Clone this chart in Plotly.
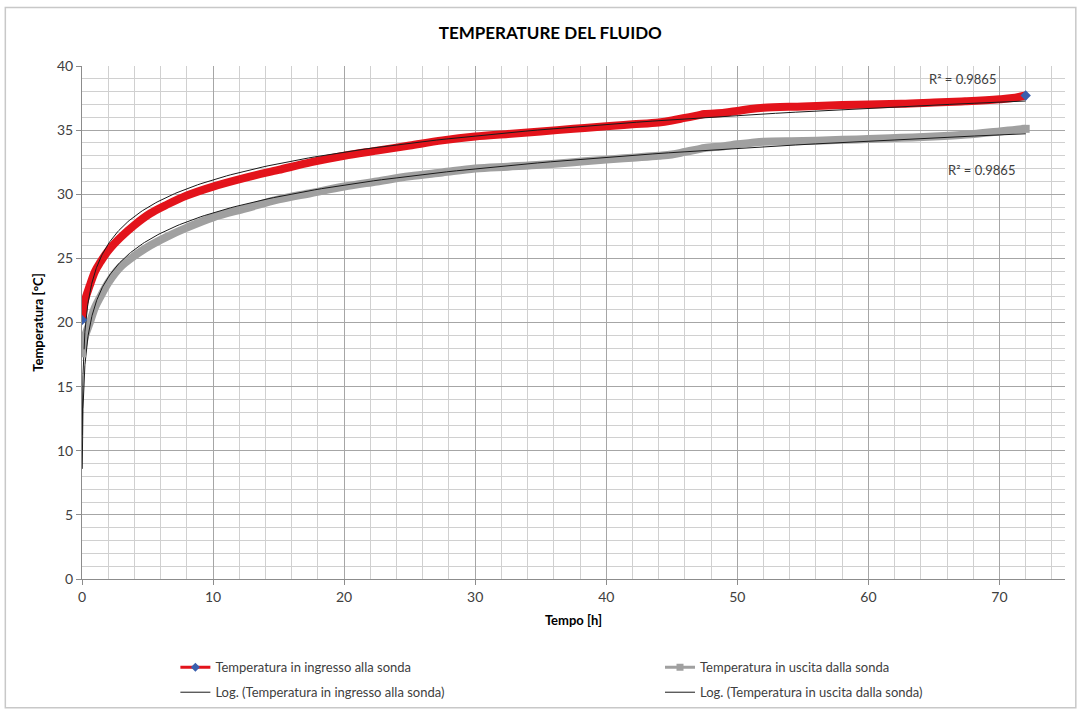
import numpy as np
import plotly.graph_objects as go

# Time [h]
tempo = [0, 0.25, 0.6, 1.0, 1.4, 2.0, 2.9, 4.0, 5.2, 6.5, 8.0, 10, 12.5, 15, 17.5, 20, 22.5, 25,
         27.5, 30, 32.5, 35, 37.5, 40, 42, 44, 45, 46, 47, 47.5, 49, 50, 51, 52, 55, 58, 60,
         62.5, 65, 67.5, 70, 71, 72]
# Inlet temperature [°C]
t_ingresso = [20.2, 21.8, 22.9, 24.0, 24.7, 25.6, 26.6, 27.6, 28.5, 29.2, 29.9, 30.6, 31.3, 31.9,
              32.5, 33.0, 33.4, 33.8, 34.2, 34.5, 34.7, 34.9, 35.1, 35.3, 35.45, 35.6, 35.75,
              35.95, 36.15, 36.25, 36.35, 36.5, 36.65, 36.75, 36.85, 36.95, 37.0, 37.05, 37.15,
              37.25, 37.4, 37.5, 37.7]
# Outlet temperature [°C]
t_uscita = [17.6, 19.0, 20.0, 21.2, 22.0, 23.1, 24.3, 25.2, 26.0, 26.7, 27.4, 28.2, 28.9, 29.6,
            30.1, 30.6, 31.0, 31.4, 31.7, 32.0, 32.15, 32.3, 32.5, 32.7, 32.85, 33.0, 33.1,
            33.3, 33.5, 33.6, 33.75, 33.9, 34.0, 34.1, 34.15, 34.25, 34.3, 34.4, 34.5, 34.65,
            34.9, 35.0, 35.1]

r2_text = ["R² = 0.9865", "R² = 0.9865"]
x_ticks = [0, 10, 20, 30, 40, 50, 60, 70]
y_ticks = [0, 5, 10, 15, 20, 25, 30, 35, 40]

FONT = "Lato, 'Liberation Sans', Arial, sans-serif"
TXT = "#404040"
RED = "#e3131b"
GREY = "#a0a0a0"
BLUE = "#3a5fae"

def log_fit(x, y):
    x = np.asarray(x, float)
    y = np.asarray(y, float)
    m = x > 0
    a, b = np.polyfit(np.log(x[m]), y[m], 1)
    xs = np.geomspace(1 / 60, x.max(), 300)
    return xs, a * np.log(xs) + b

fx1, fy1 = log_fit(tempo, t_ingresso)
fx2, fy2 = log_fit(tempo, t_uscita)

ends_x = [tempo[0], tempo[-1]]

fig = go.Figure()
# data lines
fig.add_trace(go.Scatter(x=tempo, y=t_ingresso, mode="lines", showlegend=False,
                         line=dict(color=RED, width=8, shape="spline"), hoverinfo="skip"))
fig.add_trace(go.Scatter(x=tempo, y=t_uscita, mode="lines", showlegend=False,
                         line=dict(color=GREY, width=8, shape="spline"), hoverinfo="skip"))
# trendlines
fig.add_trace(go.Scatter(x=fx1, y=fy1, mode="lines", showlegend=False,
                         line=dict(color="#1a1a1a", width=1)))
fig.add_trace(go.Scatter(x=fx2, y=fy2, mode="lines", showlegend=False,
                         line=dict(color="#1a1a1a", width=1)))
# end markers
fig.add_trace(go.Scatter(x=ends_x, y=[t_ingresso[0], t_ingresso[-1]], mode="markers", showlegend=False,
                         marker=dict(symbol="diamond", color=BLUE, size=8)))
fig.add_trace(go.Scatter(x=ends_x, y=[t_uscita[0], t_uscita[-1]], mode="markers", showlegend=False,
                         marker=dict(symbol="square", color=GREY, size=8)))

# legend entries
fig.add_trace(go.Scatter(x=[None], y=[None], mode="lines+markers",
                         name="Temperatura in ingresso alla sonda", legend="legend", legendgroup="a",
                         line=dict(color=RED, width=3),
                         marker=dict(symbol="diamond", color=BLUE, size=7)))
fig.add_trace(go.Scatter(x=[None], y=[None], mode="lines",
                         name="Log. (Temperatura in ingresso alla sonda)", legend="legend", legendgroup="b",
                         line=dict(color="#1a1a1a", width=1)))
fig.add_trace(go.Scatter(x=[None], y=[None], mode="lines+markers",
                         name="Temperatura in uscita dalla sonda", legend="legend2", legendgroup="c",
                         line=dict(color=GREY, width=3),
                         marker=dict(symbol="square", color=GREY, size=7)))
fig.add_trace(go.Scatter(x=[None], y=[None], mode="lines",
                         name="Log. (Temperatura in uscita dalla sonda)", legend="legend2", legendgroup="d",
                         line=dict(color="#1a1a1a", width=1)))

fig.add_annotation(x=67.2, y=39.0, text=r2_text[0], showarrow=False,
                   font=dict(family=FONT, size=13, color=TXT))
fig.add_annotation(x=68.6, y=31.9, text=r2_text[1], showarrow=False,
                   font=dict(family=FONT, size=13, color=TXT))

# outer chart frame
fig.add_shape(type="rect", xref="paper", yref="paper",
              x0=-0.078, x1=1.011, y0=-0.251, y1=1.114,
              line=dict(color="#c8c8c8", width=1.5), fillcolor="rgba(0,0,0,0)", layer="below")

leg_common = dict(orientation="v", yanchor="top", y=-0.143, tracegroupgap=5,
                  font=dict(family=FONT, size=13, color=TXT), itemwidth=30,
                  bgcolor="rgba(0,0,0,0)", xanchor="left")

fig.update_layout(
    width=1079, height=711,
    paper_bgcolor="white", plot_bgcolor="white",
    margin=dict(l=82, r=14, t=66, b=132, autoexpand=False),
    title=dict(text="<b>TEMPERATURE DEL FLUIDO</b>", x=0.51, xanchor="center",
               y=0.953, yanchor="middle", font=dict(family=FONT, size=17, color="#000000")),
    font=dict(family=FONT, size=13, color=TXT),
    showlegend=True,
    legend=dict(x=0.095, **leg_common),
    legend2=dict(x=0.588, **leg_common),
    xaxis=dict(
        range=[0, 75], tickvals=x_ticks, showline=True, linecolor="#8c8c8c",
        ticks="outside", ticklen=5, tickcolor="#8c8c8c", automargin=False,
        showgrid=True, gridcolor="#a6a6a6", gridwidth=1, zeroline=False,
        minor=dict(dtick=2, showgrid=True, gridcolor="#d0d0d0", gridwidth=1),
        title=dict(text="<b>Tempo [h]</b>", font=dict(family=FONT, size=13, color="#000000"), standoff=12),
        tickfont=dict(family=FONT, size=14, color=TXT),
    ),
    yaxis=dict(
        range=[0, 40], tickvals=y_ticks, showline=True, linecolor="#8c8c8c",
        ticks="outside", ticklen=5, tickcolor="#8c8c8c", automargin=False,
        showgrid=True, gridcolor="#a6a6a6", gridwidth=1, zeroline=False,
        minor=dict(dtick=1, showgrid=True, gridcolor="#d0d0d0", gridwidth=1),
        title=dict(text="<b>Temperatura [°C]</b>", font=dict(family=FONT, size=13, color="#000000"), standoff=10),
        tickfont=dict(family=FONT, size=14, color=TXT),
    ),
)

fig.write_html("out.html", config={"displayModeBar": False},
               post_script="document.body.style.margin='0';")
